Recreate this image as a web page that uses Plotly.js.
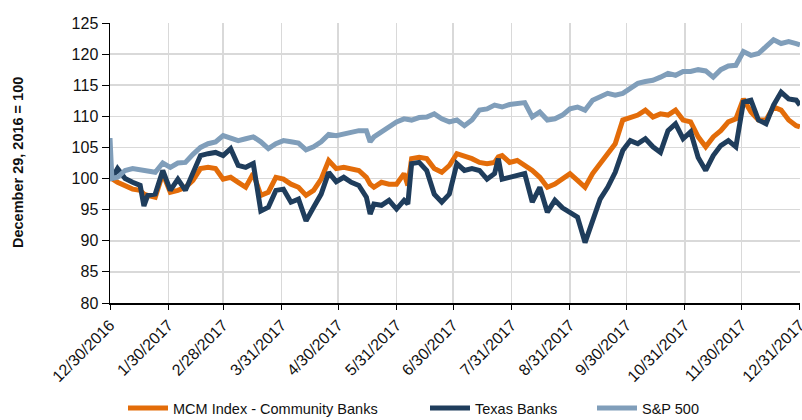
<!DOCTYPE html>
<html>
<head>
<meta charset="utf-8">
<script src="https://cdn.plot.ly/plotly-3.0.1.min.js"></script>
<style>html,body{margin:0;padding:0;background:#fff;overflow:hidden;}#chart{width:802px;height:420px;}</style>
</head>
<body>
<div id="chart"></div>
<script>
const dates = ["2016-12-30","2016-12-31","2017-01-03","2017-01-07","2017-01-11","2017-01-15","2017-01-17","2017-01-19","2017-01-23","2017-01-27",
"2017-01-31","2017-02-04","2017-02-08","2017-02-12","2017-02-16","2017-02-20","2017-02-24","2017-02-28","2017-03-04","2017-03-08",
"2017-03-12","2017-03-16","2017-03-20","2017-03-24","2017-03-28","2017-04-01","2017-04-05","2017-04-09","2017-04-13","2017-04-17",
"2017-04-21","2017-04-25","2017-04-29","2017-05-03","2017-05-07","2017-05-11","2017-05-15","2017-05-17","2017-05-19","2017-05-23",
"2017-05-27","2017-05-31","2017-06-04","2017-06-06","2017-06-08","2017-06-12","2017-06-16","2017-06-20","2017-06-24","2017-06-28",
"2017-07-02","2017-07-06","2017-07-10","2017-07-14","2017-07-18","2017-07-22","2017-07-24","2017-07-26","2017-07-30","2017-08-03",
"2017-08-07","2017-08-11","2017-08-15","2017-08-19","2017-08-23","2017-08-27","2017-08-31","2017-09-04","2017-09-08","2017-09-12",
"2017-09-16","2017-09-20","2017-09-24","2017-09-28","2017-10-02","2017-10-06","2017-10-10","2017-10-14","2017-10-18","2017-10-22",
"2017-10-26","2017-10-30","2017-11-03","2017-11-07","2017-11-11","2017-11-15","2017-11-19","2017-11-23","2017-11-27","2017-12-01",
"2017-12-05","2017-12-09","2017-12-13","2017-12-17","2017-12-21","2017-12-25","2017-12-29","2017-12-31"];

const mcmCommunityBanks = [100,100,99.4,98.9,98.3,98.1,97.5,97.3,97,100.8,
97.8,98.1,98.6,99.7,101.6,101.8,101.6,99.9,100.2,99.4,
98.6,100.8,97.3,97.8,100.2,99.9,99.1,98.6,97.3,98.1,
99.9,102.9,101.6,101.8,101.6,101.3,100.2,99.1,98.6,99.4,
99.1,99.1,100.8,98.9,103.2,103.4,103.2,101.6,101,102.1,
104,103.7,103.2,102.6,102.4,102.6,103.5,103.7,102.6,102.9,
102.1,101.3,100.2,98.6,99.1,100,100.8,99.7,98.6,100.8,
102.4,103.7,105.6,109.4,109.9,110.2,111,109.9,110.4,110.2,
111,109.4,109.1,106.7,105.1,106.7,107.7,109.1,109.6,112.8,
110.7,109.4,109.4,111.5,111,109.4,108.5,108.3];

const texasBanks = [100,100,101.6,100,99.4,98.9,95.6,97.3,97.5,101.3,
98.1,99.9,98.1,100.8,103.7,104,104.2,103.7,104.8,102.1,
101.8,102.4,94.8,95.4,98.1,98.3,96.2,96.7,93.2,95.4,
97.5,101,99.5,100.2,99.4,98.9,97,94.3,95.9,95.7,
96.5,95.1,96.5,95.9,102.4,102.6,101.3,97.5,96.2,97.5,
102.4,101.3,101.6,101.3,99.9,100.8,103.2,99.9,100.2,100.5,
100.8,96.2,98.6,94.6,96.5,95.3,94.6,93.8,89.7,93.2,
96.7,98.6,101,104.5,106.1,105.6,106.4,105.1,104.2,107.7,
108.8,106.4,107.5,103.4,101.3,103.7,105.3,106.1,105.1,112.3,
112.6,109.4,108.8,111.8,113.9,112.8,112.6,111.8];

const sp500 = [106.5,100,100.2,101.3,101.6,101.4,101.3,101.2,101,102.5,
101.8,102.5,102.6,103.9,105,105.6,105.9,106.9,106.4,106.1,
106.4,106.7,105.9,104.8,105.6,106.1,105.9,105.7,104.6,105.1,
105.9,107.1,106.9,107.2,107.5,107.7,107.7,105.9,106.7,107.5,
108.3,109.1,109.6,109.5,109.4,109.8,109.9,110.4,109.6,109.1,
109.4,108.5,109.4,111,111.2,111.8,111.7,111.5,111.9,112,
112.2,109.9,110.7,109.4,109.6,110.2,111.2,111.5,111,112.6,
113.1,113.7,113.4,113.7,114.5,115.3,115.6,115.8,116.3,116.9,
116.6,117.2,117.2,117.5,117.3,116.3,117.5,118.1,118.2,120.4,
119.8,120.1,121.2,122.3,121.7,122,121.7,121.5];

const tickDates = ["2016-12-30","2017-01-30","2017-02-28","2017-03-31","2017-04-30","2017-05-31","2017-06-30",
"2017-07-31","2017-08-31","2017-09-30","2017-10-31","2017-11-30","2017-12-31"];
const tickLabels = ["12/30/2016","1/30/2017","2/28/2017","3/31/2017","4/30/2017","5/31/2017","6/30/2017",
"7/31/2017","8/31/2017","9/30/2017","10/31/2017","11/30/2017","12/31/2017"];

const seriesNames = ["MCM Index - Community Banks","Texas Banks","S&P 500"];
const colors = ["#E36C09","#1F3D5C","#809EBA"];

const traces = [
  {x: dates, y: mcmCommunityBanks, name: seriesNames[0], type: 'scatter', mode: 'lines',
   line: {color: colors[0], width: 5}, legend: 'legend'},
  {x: dates, y: texasBanks, name: seriesNames[1], type: 'scatter', mode: 'lines',
   line: {color: colors[1], width: 5}, legend: 'legend2'},
  {x: dates, y: sp500, name: seriesNames[2], type: 'scatter', mode: 'lines',
   line: {color: colors[2], width: 5}, legend: 'legend3'}
];

const legFont = {family: 'Liberation Sans, Arial, sans-serif', size: 14.5, color: '#111'};
const legBase = {orientation: 'h', yanchor: 'middle', xanchor: 'left', y: -0.375, font: legFont,
  bgcolor: 'rgba(0,0,0,0)', borderwidth: 0, itemwidth: 40};

const layout = {
  width: 802, height: 420,
  margin: {l: 110, r: 2, t: 23, b: 117, autoexpand: false},
  paper_bgcolor: '#fff', plot_bgcolor: '#fff',
  font: {family: 'Liberation Sans, Arial, sans-serif', color: '#111'},
  showlegend: true,
  xaxis: {
    type: 'date', range: ['2016-12-30', '2017-12-31 00:30'],
    tickmode: 'array', tickvals: tickDates, ticktext: tickLabels,
    tickangle: -45, ticks: 'outside', ticklen: 5, tickcolor: '#000', tickwidth: 1,
    showline: true, linecolor: '#000', linewidth: 1.5,
    showgrid: true, gridcolor: '#D9D9D9', gridwidth: 1.5,
    ticklabeloverflow: 'allow',
    tickfont: {size: 16, color: '#111'}, zeroline: false, fixedrange: true, automargin: false
  },
  yaxis: {
    range: [80, 125], dtick: 5, tick0: 80,
    ticks: 'outside', ticklen: 7, tickcolor: '#000', tickwidth: 1,
    showline: true, linecolor: '#000', linewidth: 1.5,
    showgrid: true, gridcolor: '#D9D9D9', gridwidth: 1.5,
    tickfont: {size: 16, color: '#111'}, zeroline: false, fixedrange: true, automargin: false
  },
  annotations: [{
    text: 'December 29, 2016 = 100', textangle: -90,
    xref: 'paper', yref: 'paper', x: -92/690, y: 0.5, xanchor: 'center', yanchor: 'middle',
    showarrow: false, font: {size: 14.5, color: '#111', family: 'Liberation Sans, Arial, sans-serif', weight: 'bold'}
  }],
  legend: Object.assign({}, legBase, {x: 13/690}),
  legend2: Object.assign({}, legBase, {x: 315/690}),
  legend3: Object.assign({}, legBase, {x: 482/690})
};

Plotly.newPlot('chart', traces, layout, {displayModeBar: false, staticPlot: true});
</script>
</body>
</html>
